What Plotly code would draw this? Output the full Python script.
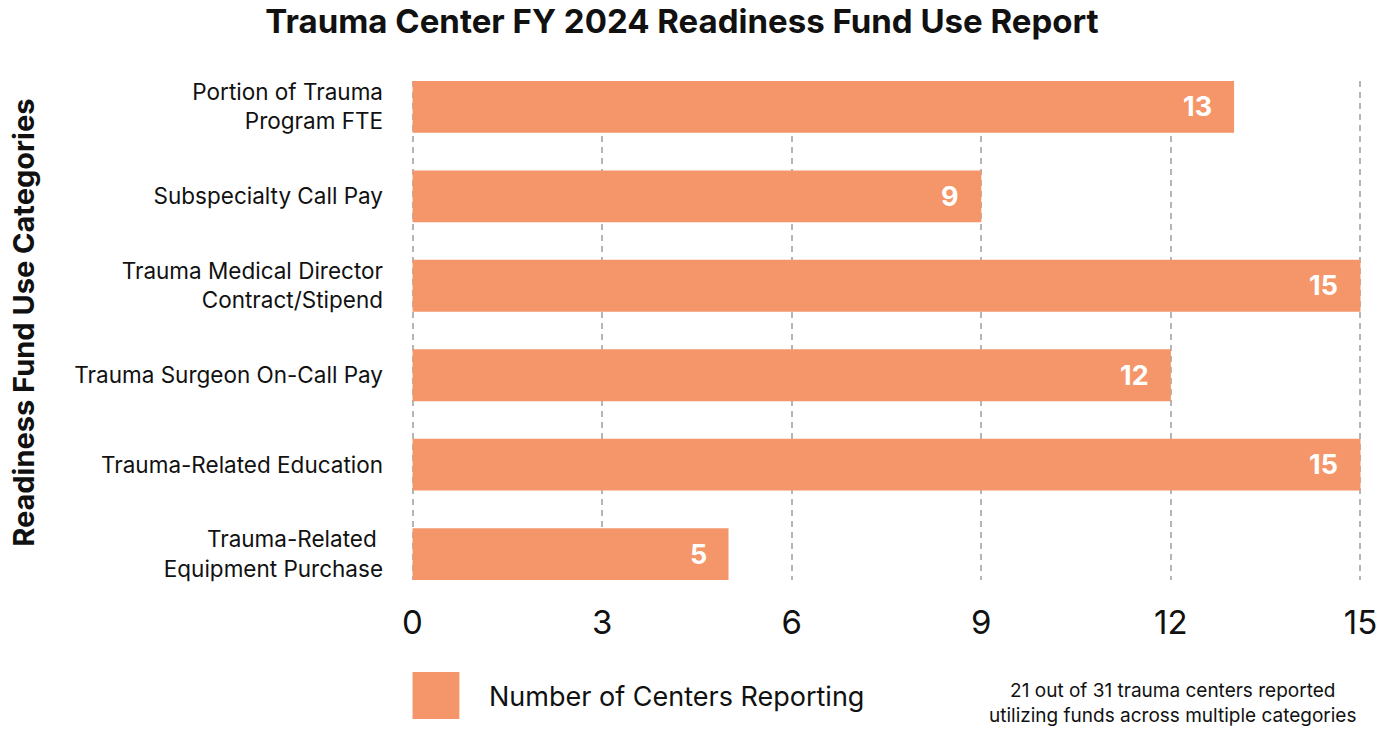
import plotly.graph_objects as go

categories = [
    "Portion of Trauma<br>Program FTE",
    "Subspecialty Call Pay",
    "Trauma Medical Director<br>Contract/Stipend",
    "Trauma Surgeon On-Call Pay",
    "Trauma-Related Education",
    "Trauma-Related&nbsp;<br>Equipment Purchase",
]
values = [13, 9, 15, 12, 15, 5]
x_ticks = [0, 3, 6, 9, 12, 15]
series_name = "Number of Centers Reporting"
note_text = "21 out of 31 trauma centers reported<br>utilizing funds across multiple categories"

BAR = "#F5966A"
FONT = "Inter"

fig = go.Figure()
fig.add_trace(go.Bar(
    x=values, y=categories, orientation="h",
    marker=dict(color=BAR, line=dict(width=0)),
    width=0.58, showlegend=False, hoverinfo="x+y",
))

for v, c in zip(values, categories):
    fig.add_annotation(x=v, y=c, xref="x", yref="y", text=f"<b>{v}</b>",
                       showarrow=False, xanchor="right", xshift=-20,
                       font=dict(family=FONT, size=27, color="white"))

X0, X15 = 413, 1364
PAD = 0.04
unit = (X15 - X0) / 15
L = X0 - PAD * unit
R = X15 + PAD * unit
T, B = 81, 580
W = R - L
H = B - T


def px(x):
    return (x - L) / W


def py(y):
    return (B - y) / H


fig.add_shape(type="rect", xref="paper", yref="paper",
              x0=px(413), x1=px(460), y0=py(672), y1=py(719),
              fillcolor=BAR, line=dict(width=0))
fig.add_annotation(xref="paper", yref="paper", x=px(488), y=py(696),
                   text=series_name, showarrow=False, xanchor="left", yanchor="middle",
                   font=dict(family=FONT, size=27, color="#111"))
fig.add_annotation(xref="paper", yref="paper", x=px(1175), y=py(703),
                   text=note_text, showarrow=False, xanchor="center", yanchor="middle",
                   align="center",
                   font=dict(family=FONT, size=19, color="#111"))
fig.add_annotation(xref="paper", yref="paper", x=px(22), y=py(323),
                   text="<b>Readiness Fund Use Categories</b>", textangle=-90,
                   showarrow=False, xanchor="center", yanchor="middle",
                   font=dict(family=FONT, size=29, color="#111"))

fig.update_layout(
    width=1389, height=729,
    margin=dict(l=L, r=1389 - R, t=T, b=729 - B),
    paper_bgcolor="white", plot_bgcolor="white",
    title=dict(text="<b>Trauma Center FY 2024 Readiness Fund Use Report</b>",
               x=0.491, xanchor="center", y=0.970, yanchor="middle",
               font=dict(family=FONT, size=33, color="#111")),
    font=dict(family=FONT, color="#111"),
)
fig.update_xaxes(range=[-PAD, 15 + PAD], tickvals=x_ticks, showgrid=True,
                 gridcolor="#B5B5B5", gridwidth=2, griddash="6px,5px",
                 zeroline=False, showline=False, ticks="",
                 ticklabelstandoff=20,
                 tickfont=dict(family=FONT, size=33, color="#111"))
fig.update_yaxes(categoryorder="array", categoryarray=categories[::-1],
                 range=[-0.29, 5.29],
                 showgrid=False, zeroline=False, showline=False, ticks="",
                 ticklabelstandoff=26,
                 tickfont=dict(family=FONT, size=22.5, color="#111"))

fig.write_html("out.html", config={"displayModeBar": False},
               post_script="document.body.style.margin='0';")
